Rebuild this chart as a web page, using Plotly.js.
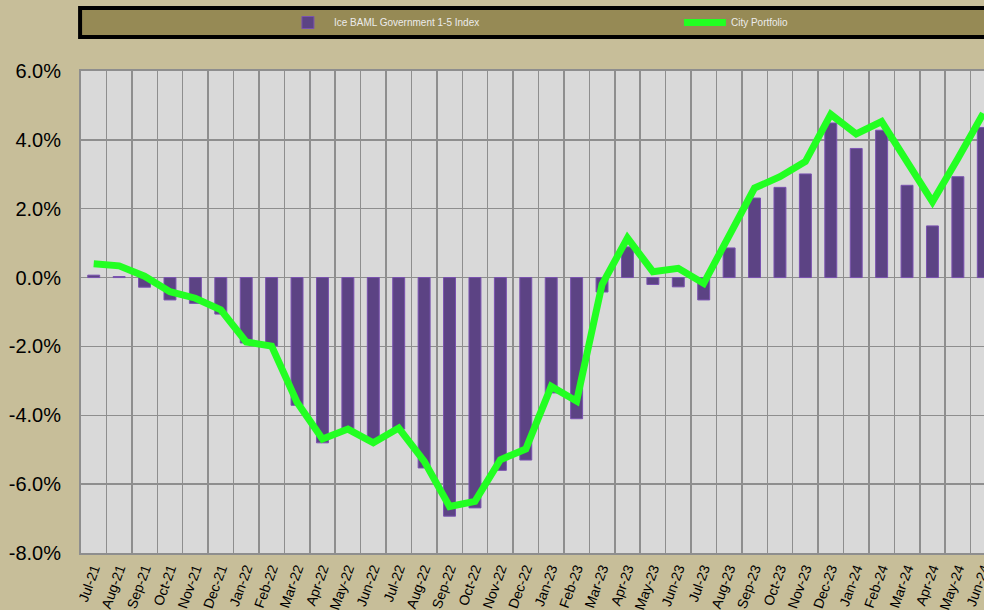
<!DOCTYPE html>
<html>
<head>
<meta charset="utf-8">
<script src="https://cdn.plot.ly/plotly-3.0.1.min.js"></script>
<style>
html,body{margin:0;padding:0;overflow:hidden;background:#c7be99;}
#chart{width:1000px;height:610px;}
</style>
</head>
<body>
<div id="chart"></div>
<script>
const months = ["Jul-21","Aug-21","Sep-21","Oct-21","Nov-21","Dec-21","Jan-22","Feb-22","Mar-22","Apr-22","May-22","Jun-22",
  "Jul-22","Aug-22","Sep-22","Oct-22","Nov-22","Dec-22","Jan-23","Feb-23","Mar-23","Apr-23","May-23","Jun-23",
  "Jul-23","Aug-23","Sep-23","Oct-23","Nov-23","Dec-23","Jan-24","Feb-24","Mar-24","Apr-24","May-24","Jun-24"];

const indexReturns = [0.07,0.03,-0.28,-0.65,-0.75,-1.06,-1.90,-1.99,-3.71,-4.80,-4.50,-4.72,
  -4.40,-5.53,-6.93,-6.69,-5.60,-5.30,-3.35,-4.10,-0.42,0.89,-0.20,-0.27,
  -0.65,0.86,2.31,2.62,3.01,4.49,3.75,4.28,2.68,1.50,2.93,4.36];

const portfolioReturns = [0.40,0.34,0.04,-0.41,-0.60,-0.94,-1.87,-1.99,-3.62,-4.69,-4.40,-4.80,
  -4.37,-5.33,-6.65,-6.50,-5.29,-4.98,-3.16,-3.59,-0.20,1.15,0.17,0.27,
  -0.17,1.20,2.60,2.93,3.37,4.74,4.17,4.53,3.37,2.20,3.46,4.77];

const yTickVals = [-8,-6,-4,-2,0,2,4,6];
const yTickText = ["-8.0%","-6.0%","-4.0%","-2.0%","0.0%","2.0%","4.0%","6.0%"];

const seriesNames = ["Ice BAML Government 1-5 Index","City Portfolio"];

const traces = [
  {
    type: "bar",
    name: seriesNames[0],
    x: months,
    y: indexReturns,
    width: 0.47,
    marker: {color: "#5c4384", line: {color: "#7a52b0", width: 1}},
    hoverinfo: "skip"
  },
  {
    type: "scatter",
    mode: "lines",
    name: seriesNames[1],
    x: months,
    y: portfolioReturns,
    line: {color: "#22ff22", width: 7},
    hoverinfo: "skip"
  }
];

const layout = {
  width: 1000,
  height: 610,
  margin: {l: 81, r: 3.5, t: 71, b: 57, autoexpand: false},
  paper_bgcolor: "#c7be99",
  plot_bgcolor: "#d9d9d9",
  font: {family: "Liberation Sans, Arial, sans-serif", color: "#000"},
  showlegend: true,
  legend: {
    orientation: "h",
    x: 0.2196,
    xanchor: "left",
    y: (553 - 22.5) / 482,
    yanchor: "middle",
    bgcolor: "rgba(0,0,0,0)",
    font: {size: 10, color: "#ececec", family: "Liberation Sans, Arial, sans-serif"},
    entrywidth: 340,
    entrywidthmode: "pixels",
    itemwidth: 42,
    traceorder: "normal"
  },
  xaxis: {
    type: "category",
    tickson: "boundaries",
    showgrid: true,
    gridcolor: "#8e8e8e",
    gridwidth: 1.5,
    showline: true,
    linecolor: "#8e8e8e",
    linewidth: 2,
    mirror: true,
    ticks: "",
    tickangle: -70,
    tickfont: {size: 14, color: "#000"},
    fixedrange: true
  },
  yaxis: {
    range: [-8, 6],
    tickvals: yTickVals,
    ticktext: yTickText,
    showgrid: true,
    gridcolor: "#8e8e8e",
    gridwidth: 1.5,
    zeroline: true,
    zerolinecolor: "#8e8e8e",
    zerolinewidth: 1.5,
    showline: true,
    linecolor: "#8e8e8e",
    linewidth: 2,
    mirror: true,
    ticks: "outside",
    ticklen: 14,
    tickcolor: "rgba(0,0,0,0)",
    tickfont: {size: 20, color: "#000"},
    fixedrange: true
  },
  shapes: [
    {
      type: "rect",
      xref: "paper", yref: "paper",
      x0: -0.001, x1: 1.2,
      y0: (553 - 37) / 482, y1: (553 - 8) / 482,
      fillcolor: "#968a55",
      line: {color: "#000", width: 4},
      layer: "below"
    }
  ]
};

Plotly.newPlot("chart", traces, layout, {staticPlot: true, displayModeBar: false});
</script>
</body>
</html>
